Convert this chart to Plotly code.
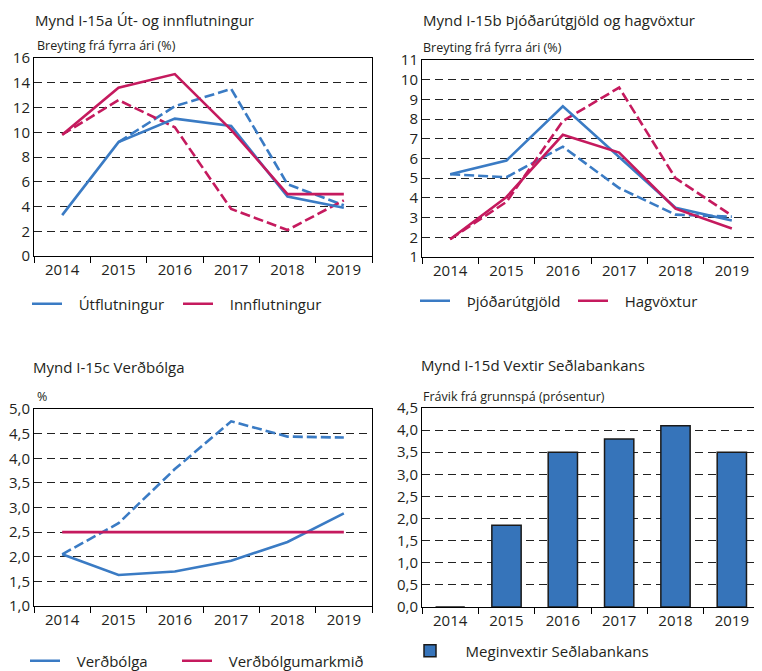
import plotly.graph_objects as go

years = ["2014", "2015", "2016", "2017", "2018", "2019"]

# Panel a: Út- og innflutningur
utfl = [3.3, 9.2, 11.1, 10.5, 4.8, 3.9]
utfl_base = [None, 9.2, 12.1, 13.5, 5.8, 4.1]
innfl = [9.8, 13.6, 14.7, 10.2, 5.0, 5.0]
innfl_base = [9.8, 12.6, 10.4, 3.8, 2.1, 4.5]

# Panel b: Þjóðarútgjöld og hagvöxtur
thjod = [5.2, 5.9, 8.65, 6.05, 3.5, 2.85]
thjod_base = [5.2, 5.05, 6.6, 4.5, 3.15, 3.05]
hag = [1.9, 4.05, 7.2, 6.3, 3.45, 2.45]
hag_base = [1.9, 3.8, 7.9, 9.6, 5.0, 3.1]

# Panel c: Verðbólga
verdb = [2.05, 1.63, 1.7, 1.92, 2.3, 2.88]
verdb_base = [2.05, 2.68, 3.78, 4.75, 4.44, 4.42]
markmid = [2.5, 2.5, 2.5, 2.5, 2.5, 2.5]

# Panel d: Vextir Seðlabankans
vextir = [0.0, 1.85, 3.5, 3.8, 4.1, 3.5]

BLUE = "#3a7bc4"
RED = "#c51a5e"
TXT = "#231f20"
FONT = "Open Sans"
SP = "\u00a0\u00a0\u00a0"
SP4 = "\u00a0\u00a0\u00a0\u00a0"
DASH = "10px,4px"

fig = go.Figure()

def line(x, y, color, dash, name, xa, ya, legend, show, lw=None):
    fig.add_trace(go.Scatter(x=x, y=y, mode="lines", name=name,
                             line=dict(color=color, width=2.6, dash=dash),
                             xaxis=xa, yaxis=ya, legend=legend, showlegend=show,
                             legendwidth=lw, connectgaps=False))

line(years, utfl_base, BLUE, DASH, "Útflutningur (grunnspá)", "x", "y", "legend", False)
line(years, innfl_base, RED, DASH, "Innflutningur (grunnspá)", "x", "y", "legend", False)
line(years, utfl, BLUE, "solid", SP + "Útflutningur", "x", "y", "legend", True)
line(years, innfl, RED, "solid", SP + "Innflutningur", "x", "y", "legend", True, 150)

line(years, thjod_base, BLUE, DASH, "Þjóðarútgjöld (grunnspá)", "x2", "y2", "legend2", False)
line(years, hag_base, RED, DASH, "Hagvöxtur (grunnspá)", "x2", "y2", "legend2", False)
line(years, thjod, BLUE, "solid", SP + "Þjóðarútgjöld", "x2", "y2", "legend2", True)
line(years, hag, RED, "solid", SP + "Hagvöxtur", "x2", "y2", "legend2", True, 120)

line(years, verdb_base, BLUE, DASH, "Verðbólga (grunnspá)", "x3", "y3", "legend3", False)
line(years, verdb, BLUE, "solid", SP + "Verðbólga", "x3", "y3", "legend3", True)
line(years, markmid, RED, "solid", SP + "Verðbólgumarkmið", "x3", "y3", "legend3", True, 160)

fig.add_trace(go.Bar(x=years, y=vextir, name=SP4 + "Meginvextir Seðlabankans",
                     marker=dict(color="#3674ba", line=dict(color="#1a1a1a", width=1.5)),
                     xaxis="x4", yaxis="y4", legend="legend4", showlegend=True))

# page body has an 8px margin; positions below are given in window pixels
OFF = 8
W, H = 762 - OFF, 671 - OFF
def px(v):
    return (v - OFF) / W
def py(v):
    return 1 - (v - OFF) / H

xcommon = dict(type="category", range=[-0.5, 5.5], showline=True, linecolor="black",
               linewidth=1, mirror=True, ticks="outside", tickson="boundaries",
               ticklen=6, tickcolor="black", showgrid=False,
               tickfont=dict(size=15, color=TXT, family=FONT))
ycommon = dict(showline=True, linecolor="black", linewidth=1, mirror=True,
               ticks="", showgrid=True, gridcolor="#222222", griddash="8px,5px",
               gridwidth=1, zeroline=False,
               tickfont=dict(size=15, color=TXT, family=FONT))

fig.update_layout(
    width=W, height=H, margin=dict(l=0, r=0, t=0, b=0, autoexpand=False),
    paper_bgcolor="white", plot_bgcolor="white",
    separators=", ", bargap=0.48,
    font=dict(family=FONT, color=TXT),
    xaxis=dict(xcommon, domain=[px(34), px(372)], anchor="y"),
    yaxis=dict(ycommon, domain=[py(256), py(58)], range=[0, 16], dtick=2, anchor="x"),
    xaxis2=dict(xcommon, domain=[px(422), px(760)], anchor="y2"),
    yaxis2=dict(ycommon, domain=[py(257), py(60)], range=[1, 11], dtick=1, anchor="x2"),
    xaxis3=dict(xcommon, domain=[px(34), px(372)], anchor="y3"),
    yaxis3=dict(ycommon, domain=[py(606), py(409)], range=[1, 5], dtick=0.5,
                tickformat=".1f", anchor="x3"),
    xaxis4=dict(xcommon, domain=[px(422), px(760)], anchor="y4"),
    yaxis4=dict(ycommon, domain=[py(607), py(408)], range=[0, 4.5], dtick=0.5,
                tickformat=".1f", anchor="x4"),
)

leg = dict(orientation="h", xanchor="left", yanchor="middle", xref="paper", yref="paper",
           font=dict(size=15, color=TXT, family=FONT), bgcolor="rgba(0,0,0,0)",
           entrywidthmode="pixels", itemwidth=30, tracegroupgap=0)
fig.update_layout(
    legend=dict(leg, x=px(27), y=py(304), entrywidth=106),
    legend2=dict(leg, x=px(415), y=py(301), entrywidth=113),
    legend3=dict(leg, x=px(25), y=py(661), entrywidth=107),
    legend4=dict(leg, x=px(410), y=py(651)),
)

def text(x, y, s, size, anchor="middle"):
    fig.add_annotation(x=px(x), y=py(y), xref="paper", yref="paper", text=s,
                       showarrow=False, xanchor="left", yanchor=anchor,
                       font=dict(size=size, color=TXT, family=FONT))

text(33, 8, "Mynd I-15a Út- og innflutningur", 15, "top")
text(421, 8, "Mynd I-15b Þjóðarútgjöld og hagvöxtur", 15, "top")
text(31, 367, "Mynd I-15c Verðbólga", 15)
text(419, 365, "Mynd I-15d Vextir Seðlabankans", 15)
text(35, 45, "Breyting frá fyrra ári (%)", 12.5)
text(421, 47, "Breyting frá fyrra ári (%)", 12.5)
text(35, 396, "%", 12.5)
text(421, 396, "Frávik frá grunnspá (prósentur)", 12.5)

fig.write_html("out.html")
